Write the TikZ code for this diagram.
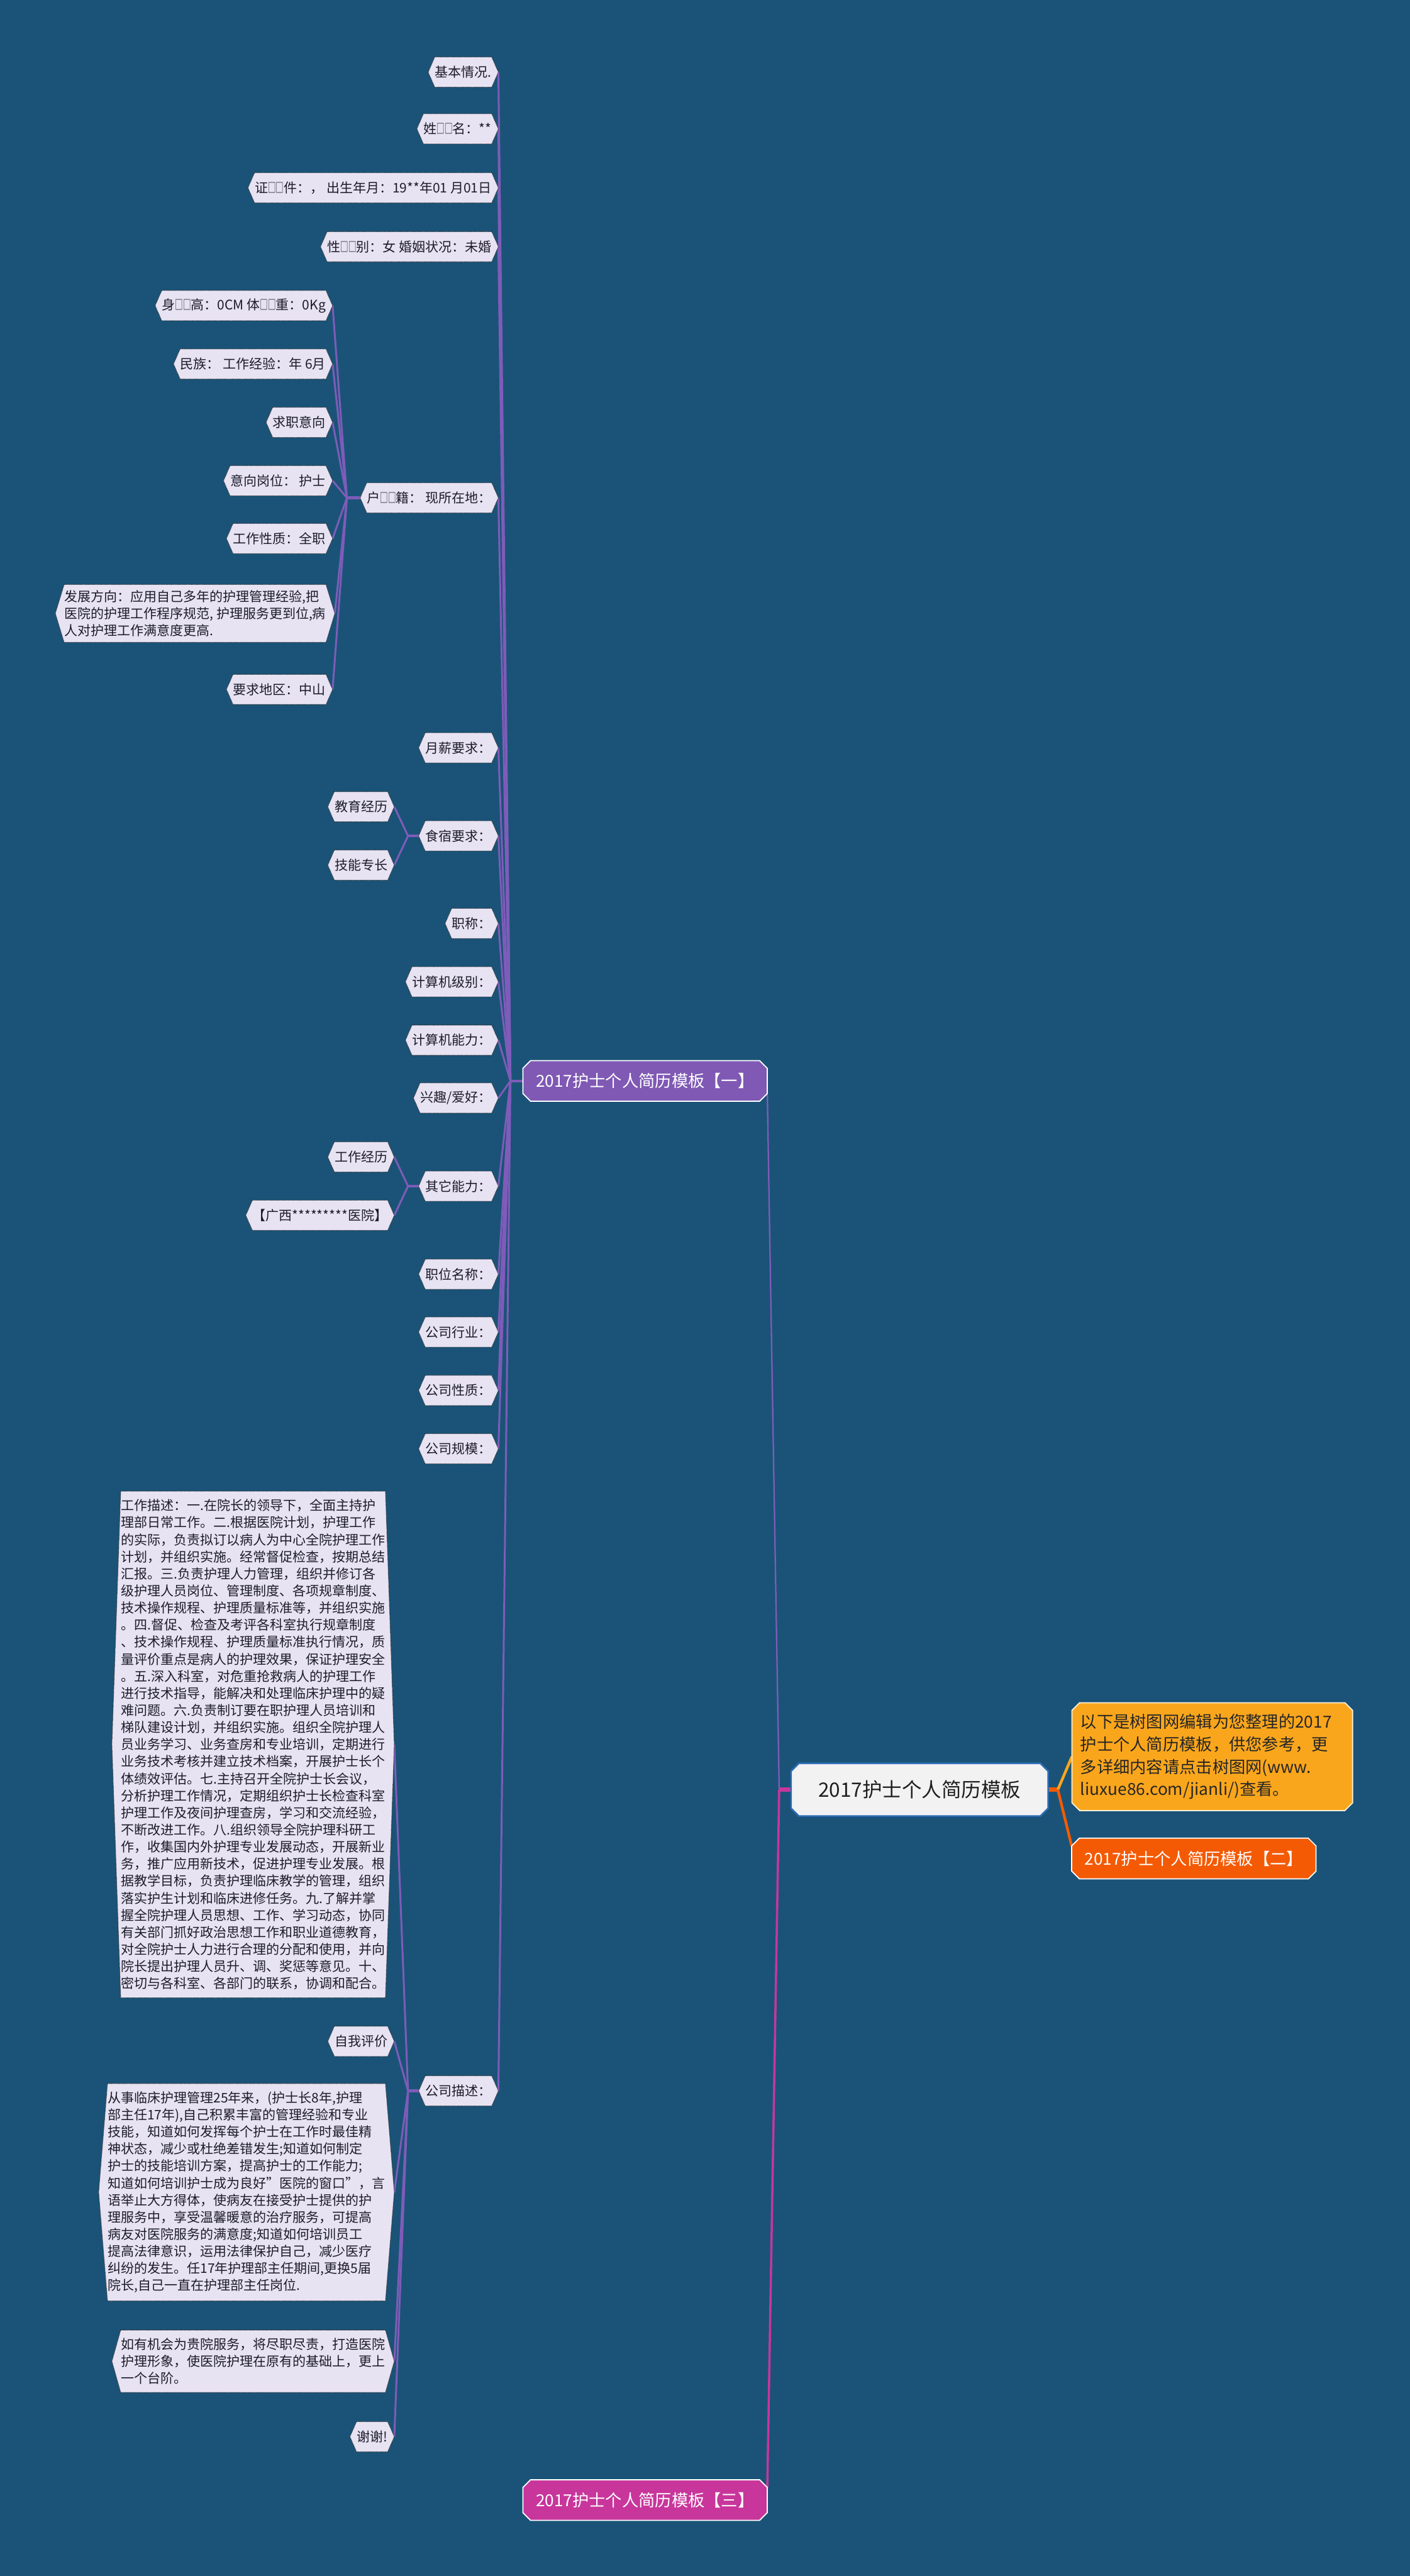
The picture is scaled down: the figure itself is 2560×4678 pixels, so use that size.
\documentclass[tikz,border=0pt]{standalone}
\usepackage{fontspec}
\usepackage{graphicx}
\setmainfont{Noto Sans CJK SC}
\usetikzlibrary{calc}
\definecolor{bgcol}{HTML}{1A5377}
\definecolor{leaffill}{HTML}{E8E3F3}
\definecolor{leaftext}{HTML}{1C1C2A}
\definecolor{lpurple}{HTML}{7E5CB9}
\definecolor{onefill}{HTML}{7F59B4}
\definecolor{magent}{HTML}{C8369B}
\definecolor{orfill}{HTML}{FAA61C}
\definecolor{redor}{HTML}{F45A03}
\definecolor{rootfill}{HTML}{F2F2F2}
\definecolor{rootborder}{HTML}{2E6CB4}
\pgfdeclarelayer{bglayer}
\pgfdeclarelayer{lineslayer}
\pgfdeclarelayer{shapeslayer}
\pgfsetlayers{bglayer,lineslayer,shapeslayer,main}
\newcommand\leaffont{\fontsize{12}{15.5}\selectfont}
\newcommand\tofu{\scalebox{0.6}[1]{□}}
\newcommand\hexshape[2]{\path[leafshape] (#2.north west) -- (#2.north east) -- ([xshift=#1]#2.east) -- (#2.south east) -- (#2.south west) -- ([xshift=-#1]#2.west) -- cycle;}
\newcommand\chamshape[3]{\path[#1] ([xshift=#3]#2.north west) -- ([xshift=-#3]#2.north east) -- ([yshift=-#3]#2.north east) -- ([yshift=#3]#2.south east) -- ([xshift=-#3]#2.south east) -- ([xshift=#3]#2.south west) -- ([yshift=#3]#2.south west) -- ([yshift=-#3]#2.north west) -- cycle;}
\tikzset{
  leaf/.style={anchor=east, inner xsep=0pt, inner ysep=0pt, minimum height=27pt, text=leaftext, font=\leaffont, align=left},
  bigleaf/.style={leaf, inner ysep=7pt},
  leafshape/.style={fill=leaffill, draw=black!85, dash pattern=on 0.6pt off 0.6pt, line width=0.6pt},
  lvone/.style={inner sep=0pt, minimum width=221.5pt, minimum height=36.5pt, text=white, font=\fontsize{15}{18}\selectfont},
  conn/.style={draw=lpurple, line width=1.7pt},
  stub/.style={draw=lpurple, line width=2.5pt},
  oneshape/.style={fill=onefill, draw=white, line width=1pt},
  threeshape/.style={fill=magent, draw=white, line width=1pt},
  twoshape/.style={fill=redor, draw=white, line width=1pt},
  infoshape/.style={fill=orfill, draw=white!85!orfill, line width=1pt},
  rootshape/.style={fill=rootfill, draw=rootborder, line width=1.5pt}
}
\begin{document}
\begin{tikzpicture}[x=0.5pt, y=-0.5pt]
\begin{pgfonlayer}{bglayer}
\fill[bgcol] (0,0) rectangle (2560,4678);
\end{pgfonlayer}
\useasboundingbox (0,0) rectangle (2560,4678);

% level 1 and root
\node[lvone] (one) at (1171.5,1963) {2017护士个人简历模板【一】};
\node[lvone] (three) at (1171.5,4540) {2017护士个人简历模板【三】};
\node[lvone] (two) at (2168,3375) {2017护士个人简历模板【二】};
\node[inner xsep=7.5pt, inner ysep=0pt, text width=239.5pt, minimum height=97.5pt, align=left, text=black!85, font=\fontsize{15}{20.5}\selectfont] (info) at (2201.5,3190) {以下是树图网编辑为您整理的2017\\%
护士个人简历模板，供您参考，更\\%
多详细内容请点击树图网(www.\\%
liuxue86.com/jianli/)查看。};
\node[inner sep=0pt, minimum width=233pt, minimum height=47.5pt, text=black!88, font=\fontsize{18}{22}\selectfont] (root) at (1670,3250) {2017护士个人简历模板};

% level 2
\node[leaf] (jb) at (893,131) {基本情况.};
\node[leaf] (xm) at (893,234) {姓\tofu\tofu 名：**};
\node[leaf] (zj) at (893,341) {证\tofu\tofu 件：， 出生年月：19**年01 月01日};
\node[leaf] (xb) at (893,448) {性\tofu\tofu 别：女 婚姻状况：未婚};
\node[leaf] (hj) at (893,904) {户\tofu\tofu 籍：\ 现所在地：};
\node[leaf] (yx) at (893,1358) {月薪要求：};
\node[leaf] (ss) at (893,1518) {食宿要求：};
\node[leaf] (zc) at (893,1677) {职称：};
\node[leaf] (jsj) at (893,1783) {计算机级别：};
\node[leaf] (jsn) at (893,1889) {计算机能力：};
\node[leaf] (xq) at (893,1994) {兴趣/爱好：};
\node[leaf] (qt) at (893,2154) {其它能力：};
\node[leaf] (zw) at (893,2314) {职位名称：};
\node[leaf] (hy) at (893,2419) {公司行业：};
\node[leaf] (xz) at (893,2525) {公司性质：};
\node[leaf] (gm) at (893,2631) {公司规模：};
\node[leaf] (ms) at (893,3797) {公司描述：};

% children of hj
\node[leaf] (sg) at (592,555) {身\tofu\tofu 高：0CM 体\tofu\tofu 重：0Kg};
\node[leaf] (mz) at (592,661) {民族：\ 工作经验：年 6月};
\node[leaf] (qz) at (592,767) {求职意向};
\node[leaf] (gw) at (592,873) {意向岗位：\ 护士};
\node[leaf] (xzh) at (592,978) {工作性质：全职};
\node[bigleaf, inner ysep=5pt] (fz) at (592,1114) {发展方向：应用自己多年的护理管理经验,把\\%
医院的护理工作程序规范, 护理服务更到位,病\\%
人对护理工作满意度更高.};
\node[leaf] (dq) at (592,1252) {要求地区：中山};

% children of ss and qt
\node[leaf] (jy) at (704,1465) {教育经历};
\node[leaf] (jn) at (704,1571) {技能专长};
\node[leaf] (gj) at (704,2101) {工作经历};
\node[leaf] (gx) at (704,2207) {【广西*********医院】};

% children of ms
\node[bigleaf] (gzms) at (700,3168) {工作描述：一.在院长的领导下，全面主持护\\%
理部日常工作。二.根据医院计划，护理工作\\%
的实际，负责拟订以病人为中心全院护理工作\\%
计划，并组织实施。经常督促检查，按期总结\\%
汇报。三.负责护理人力管理，组织并修订各\\%
级护理人员岗位、管理制度、各项规章制度、\\%
技术操作规程、护理质量标准等，并组织实施\\%
。四.督促、检查及考评各科室执行规章制度\\%
、技术操作规程、护理质量标准执行情况，质\\%
量评价重点是病人的护理效果，保证护理安全\\%
。五.深入科室，对危重抢救病人的护理工作\\%
进行技术指导，能解决和处理临床护理中的疑\\%
难问题。六.负责制订要在职护理人员培训和\\%
梯队建设计划，并组织实施。组织全院护理人\\%
员业务学习、业务查房和专业培训，定期进行\\%
业务技术考核并建立技术档案，开展护士长个\\%
体绩效评估。七.主持召开全院护士长会议，\\%
分析护理工作情况，定期组织护士长检查科室\\%
护理工作及夜间护理查房，学习和交流经验，\\%
不断改进工作。八.组织领导全院护理科研工\\%
作，收集国内外护理专业发展动态，开展新业\\%
务，推广应用新技术，促进护理专业发展。根\\%
据教学目标，负责护理临床教学的管理，组织\\%
落实护生计划和临床进修任务。九.了解并掌\\%
握全院护理人员思想、工作、学习动态，协同\\%
有关部门抓好政治思想工作和职业道德教育，\\%
对全院护士人力进行合理的分配和使用，并向\\%
院长提出护理人员升、调、奖惩等意见。十、\\%
密切与各科室、各部门的联系，协调和配合。};
\node[leaf] (zwpj) at (704,3707) {自我评价};
\node[bigleaf] (cslc) at (700,3981) {从事临床护理管理25年来，(护士长8年,护理\\%
部主任17年),自己积累丰富的管理经验和专业\\%
技能，知道如何发挥每个护士在工作时最佳精\\%
神状态，减少或杜绝差错发生;知道如何制定\\%
护士的技能培训方案，提高护士的工作能力;\\%
知道如何培训护士成为良好"医院的窗口"，言\\%
语举止大方得体，使病友在接受护士提供的护\\%
理服务中，享受温馨暖意的治疗服务，可提高\\%
病友对医院服务的满意度;知道如何培训员工\\%
提高法律意识，运用法律保护自己，减少医疗\\%
纠纷的发生。任17年护理部主任期间,更换5届\\%
院长,自己一直在护理部主任岗位.};
\node[bigleaf] (ryjh) at (700,4288) {如有机会为贵院服务，将尽职尽责，打造医院\\%
护理形象，使医院护理在原有的基础上，更上\\%
一个台阶。};
\node[leaf] (xx) at (704,4425) {谢谢!};

% shapes
\begin{pgfonlayer}{shapeslayer}
\foreach \n in {jb,xm,zj,xb,hj,yx,ss,zc,jsj,jsn,xq,qt,zw,hy,xz,gm,ms,sg,mz,qz,gw,xzh,dq,jy,jn,gj,gx,zwpj,xx} {\hexshape{6pt}{\n}}
\foreach \n in {fz,gzms,cslc,ryjh} {\hexshape{8pt}{\n}}
\chamshape{oneshape}{one}{7pt}
\chamshape{threeshape}{three}{7pt}
\chamshape{twoshape}{two}{7pt}
\chamshape{infoshape}{info}{7pt}
\chamshape{rootshape}{root}{7pt}
\end{pgfonlayer}

% connectors
\begin{pgfonlayer}{lineslayer}
\coordinate (J1) at (927,1963);
\coordinate (Jhj) at (630,904);
\coordinate (Jss) at (741,1518);
\coordinate (Jqt) at (741,2154);
\coordinate (Jms) at (741,3797);
\coordinate (JR) at (1415,3250);
\coordinate (JR2) at (1921,3250);
\foreach \n in {jb,xm,zj,xb,hj,yx,ss,zc,jsj,jsn,xq,qt,zw,hy,xz,gm,ms} {\draw[conn] ([xshift=6pt]\n.east) -- (J1);}
\draw[stub] (J1) -- (one.west);
\foreach \n in {sg,mz,qz,gw,xzh,dq} {\draw[conn] ([xshift=6pt]\n.east) -- (Jhj);}
\draw[conn] ([xshift=8pt]fz.east) -- (Jhj);
\draw[stub] (Jhj) -- ([xshift=-6pt]hj.west);
\foreach \n in {jy,jn} {\draw[conn] ([xshift=6pt]\n.east) -- (Jss);}
\draw[stub] (Jss) -- ([xshift=-6pt]ss.west);
\foreach \n in {gj,gx} {\draw[conn] ([xshift=6pt]\n.east) -- (Jqt);}
\draw[stub] (Jqt) -- ([xshift=-6pt]qt.west);
\foreach \n in {zwpj,xx} {\draw[conn] ([xshift=6pt]\n.east) -- (Jms);}
\foreach \n in {gzms,cslc,ryjh} {\draw[conn] ([xshift=8pt]\n.east) -- (Jms);}
\draw[stub] (Jms) -- ([xshift=-6pt]ms.west);
\draw[draw=magent, line width=4pt] (root.west) -- (JR);
\draw[draw=lpurple, line width=1.3pt] (JR) -- ([yshift=7pt]one.south east);
\draw[draw=magent, line width=2pt] (JR) -- ([yshift=-7pt]three.north east);
\draw[draw=redor, line width=4pt] (root.east) -- (JR2);
\draw[draw=orfill, line width=2.5pt] (JR2) -- (info.west);
\draw[draw=redor, line width=2.5pt] (JR2) -- ([yshift=-7pt]two.north west);
\end{pgfonlayer}
\end{tikzpicture}
\end{document}
